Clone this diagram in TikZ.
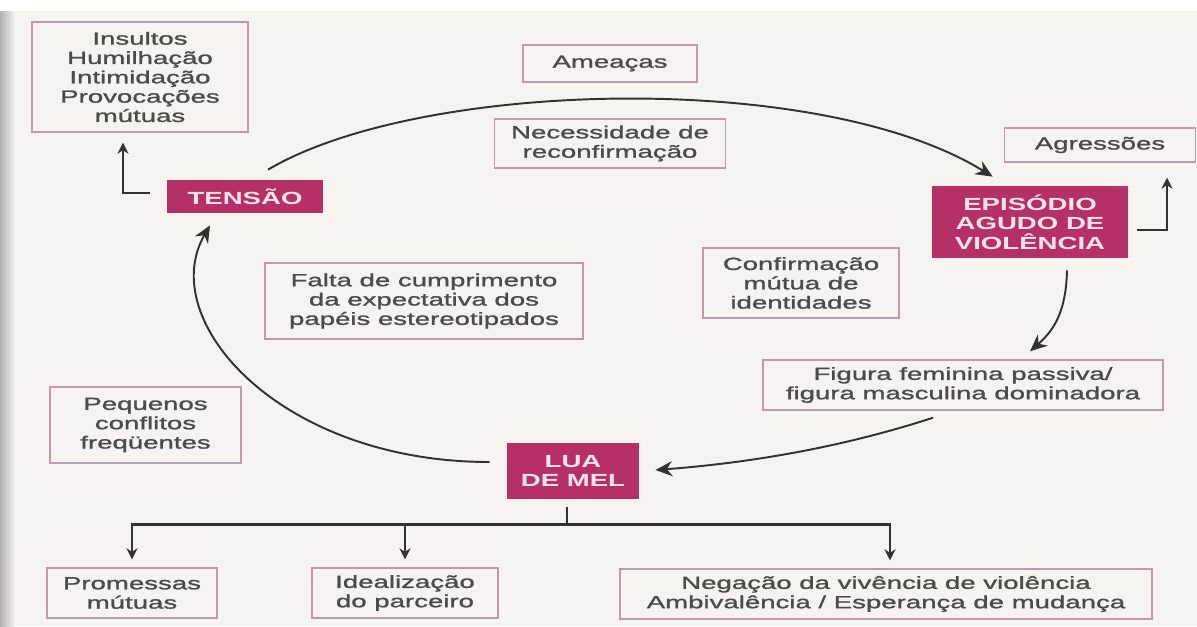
\documentclass[tikz,border=0pt]{standalone}
\usepackage{fontspec}
\setmainfont{Liberation Sans}[FakeStretch=1.57,UprightFeatures={FakeBold=1.3}]
\usetikzlibrary{arrows.meta}
\definecolor{paper}{RGB}{247,243,239}
\definecolor{wine}{RGB}{182,48,104}
\definecolor{blush}{RGB}{250,228,236}
\definecolor{frame}{RGB}{190,155,170}
\definecolor{ink}{RGB}{75,75,75}
\definecolor{wire}{RGB}{50,50,50}

\begin{document}
\begin{tikzpicture}[
  box/.style={rectangle,draw=frame,line width=0.8pt,fill=paper,text=ink,align=center,inner sep=2pt,font=\fontsize{10}{11}\selectfont},
  stage/.style={rectangle,fill=wine,text=blush,align=center,inner sep=2pt,font=\bfseries\fontsize{10}{11}\selectfont},
  roundarr/.style={draw=wire,line width=1.1pt,-{Stealth[length=0.34cm,width=0.3cm]}},
  elbowarr/.style={draw=wire,line width=1.3pt,-{Stealth[length=0.22cm,width=0.22cm]}},
  treeline/.style={draw=wire,line width=1.3pt},
  treearr/.style={treeline,-{Stealth[length=0.22cm,width=0.22cm]}}
]
\useasboundingbox (0,0) rectangle (23.94,-12.52);
\fill[paper] (0,0) rectangle (23.94,-12.52);
\fill[white] (0,0) rectangle (23.94,-0.22);
\shade[left color=black!30,right color=paper] (0,-0.22) rectangle (0.3,-12.52);

% caixas
\node[box,minimum width=4.32cm,minimum height=2.2cm] (insultos) at (2.80,-1.54) {Insultos\\Humilhação\\Intimidação\\Provocações\\mútuas};
\node[stage,minimum width=3.12cm,minimum height=0.66cm] (tensao) at (4.90,-3.93) {TENSÃO};
\node[box,minimum width=3.48cm,minimum height=0.74cm] (ameacas) at (12.20,-1.27) {Ameaças};
\node[box,minimum width=4.62cm,minimum height=0.98cm] (necessidade) at (12.20,-2.87) {Necessidade de\\reconfirmação};
\node[box,minimum width=3.82cm,minimum height=0.68cm] (agressoes) at (22.00,-2.90) {Agressões};
\node[stage,minimum width=3.92cm,minimum height=1.44cm] (episodio) at (20.60,-4.44) {EPISÓDIO\\AGUDO DE\\VIOLÊNCIA};
\node[box,minimum width=3.92cm,minimum height=1.40cm] (confirmacao) at (16.02,-5.66) {Confirmação\\mútua de\\identidades};
\node[box,minimum width=6.36cm,minimum height=1.52cm] (falta) at (8.48,-6.02) {Falta de cumprimento\\da expectativa dos\\papéis estereotipados};
\node[box,minimum width=8.0cm,minimum height=1.0cm] (figura) at (19.26,-7.70) {Figura feminina passiva/\\figura masculina dominadora};
\node[box,minimum width=3.82cm,minimum height=1.52cm] (pequenos) at (2.91,-8.50) {Pequenos\\conflitos\\freqüentes};
\node[stage,minimum width=2.64cm,minimum height=1.12cm] (lua) at (11.46,-9.42) {LUA\\DE MEL};
\node[box,minimum width=3.40cm,minimum height=1.0cm] (promessas) at (2.64,-11.86) {Promessas\\mútuas};
\node[box,minimum width=3.72cm,minimum height=1.0cm] (idealizacao) at (8.10,-11.86) {Idealização\\do parceiro};
\node[box,minimum width=10.64cm,minimum height=1.0cm] (negacao) at (17.72,-11.88) {Negação da vivência de violência\\Ambivalência / Esperança de mudança};

% ciclo
\draw[roundarr] ([shift={(0.46,0.2)}]tensao.north) .. controls +(3.04,1.8) and +(-3.46,2.14) .. ([shift={(1.22,0.18)}]episodio.north west);
\draw[roundarr] ([shift={(0.74,-0.24)}]episodio.south) .. controls +(-0.02,-0.8) and +(0.5,0.44) .. ([shift={(1.34,0.16)}]figura.north);
\draw[roundarr] ([shift={(-0.6,-0.14)}]figura.south) .. controls +(-1.66,-0.54) and +(2.1,0.16) .. ([shift={(0.32,0.02)}]lua.east);
\draw[roundarr] ([shift={(-0.34,0.18)}]lua.west) .. controls +(-4.2,0) and +(-1.1,-1.9) .. ([shift={(-0.7,-0.24)}]tensao.south);

% setas laterais
\draw[elbowarr] ([shift={(-0.34,0.07)}]tensao.west) -| ([shift={(-0.34,-0.2)}]insultos.south);
\draw[elbowarr] ([shift={(0.18,-0.16)}]episodio.east) -| ([shift={(1.34,-0.3)}]agressoes.south);

% lua de mel
\draw[treeline] ([shift={(-0.12,-0.16)}]lua.south) -- ++(0,-0.34) coordinate (fork);
\draw[treearr] (fork) -| ([yshift=0.16cm]promessas.north);
\draw[treearr] (fork) -| ([yshift=0.16cm]idealizacao.north);
\draw[treearr] (fork) -| ([shift={(0.08,0.16)}]negacao.north);
\end{tikzpicture}
\end{document}
